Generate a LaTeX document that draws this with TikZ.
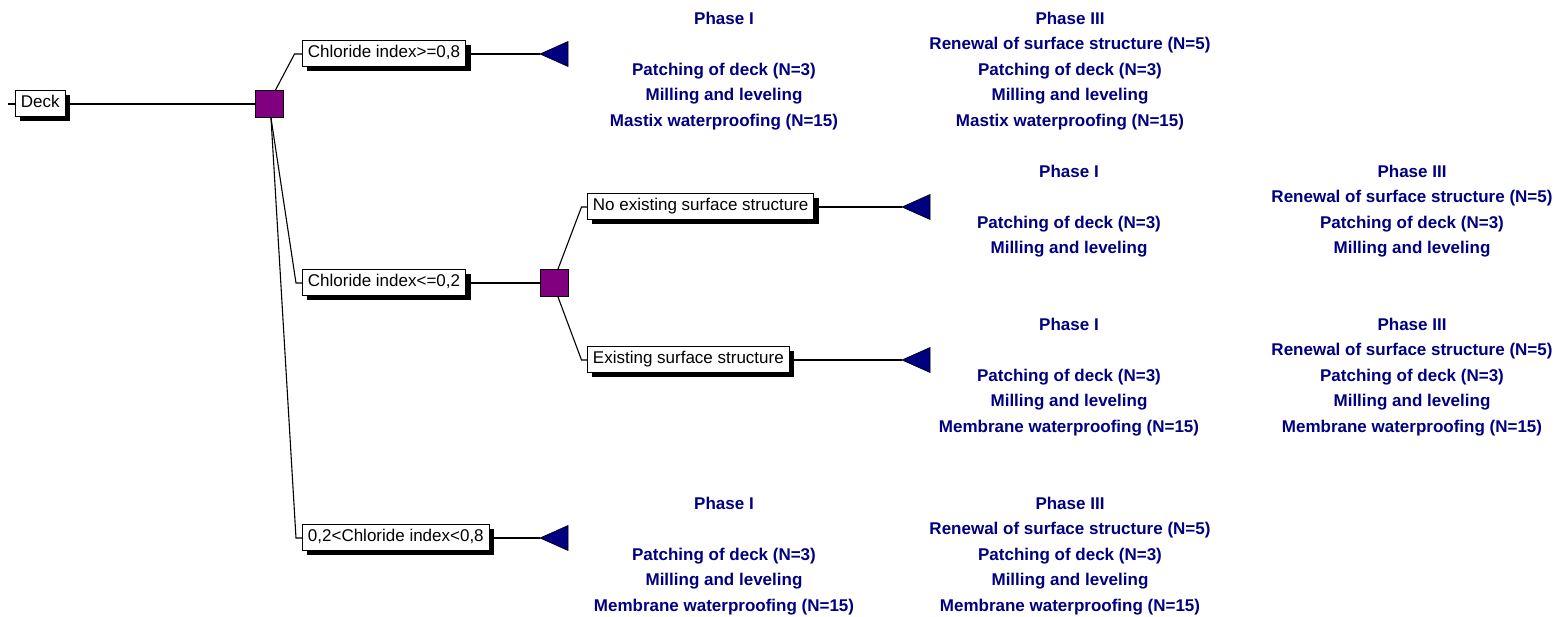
\documentclass[tikz,border=0pt]{standalone}
\usepackage{fontspec}
\setmainfont{Liberation Sans}
\usetikzlibrary{shadows}
\definecolor{navytext}{RGB}{0,0,128}
\definecolor{decpurple}{RGB}{128,0,128}
\begin{document}
\begin{tikzpicture}[x=1pt,y=-1pt,
  conn/.style={draw=black, line width=1.1pt},
  cond/.style={draw=black, fill=white, line width=0.9pt,
    font=\fontsize{17}{20}\selectfont, inner xsep=5.5pt, inner ysep=0pt,
    minimum height=26pt, text height=12.5pt, text depth=3.5pt, anchor=west,
    drop shadow={shadow xshift=5pt, shadow yshift=-5pt, fill=black, opacity=1}},
  dec/.style={draw=black, fill=decpurple, line width=0.9pt,
    minimum width=28pt, minimum height=27pt, inner sep=0pt},
  leaf/.style={draw=black, fill=navytext, line width=0.6pt},
  txt/.style={font=\bfseries\fontsize{17}{20}\selectfont, text=navytext,
    anchor=base, inner sep=0pt}
]
\useasboundingbox (0,0) rectangle (1567,617);

% ---------- tree nodes ----------
\node[cond] (deck) at (15,103) {Deck};
\node[dec]  (sq1) at (269.5,104) {};
\node[cond] (b1) at (302,53)  {Chloride index>=0,8};
\node[cond] (b2) at (302,282) {Chloride index<=0,2};
\node[cond] (b3) at (302,537) {0,2<Chloride index<0,8};
\node[dec]  (sq2) at (554,283) {};
\node[cond] (b4) at (587,206) {No existing surface structure};
\node[cond] (b5) at (587,359) {Existing surface structure};

% ---------- helper coordinates ----------
\coordinate (stub) at (8,104);
\coordinate (k1) at (294.5,54);
\coordinate (k2) at (296,283);
\coordinate (k3) at (296,538);
\coordinate (k4) at (581.5,207);
\coordinate (k5) at (581.5,360);
\coordinate (t1) at (540,54);
\coordinate (t2) at (902,207);
\coordinate (t3) at (902,360);
\coordinate (t4) at (540,538);

% ---------- connectors ----------
\draw[conn] (stub) -- (deck.west |- stub);
\draw[conn] (deck.east |- sq1) -- (sq1.west);
\draw[conn] ([xshift=6pt]sq1.north) -- (k1) -- (b1.west |- k1);
\draw[conn] ([xshift=1.5pt]sq1.south) -- (k2) -- (b2.west |- k2);
\draw[conn] ([xshift=1.5pt]sq1.south) -- (k3) -- (b3.west |- k3);
\draw[conn] (b2.east |- sq2) -- (sq2.west);
\draw[conn] ([xshift=4pt]sq2.north) -- (k4) -- (b4.west |- k4);
\draw[conn] ([xshift=4pt]sq2.south) -- (k5) -- (b5.west |- k5);
\draw[conn] (b1.east |- t1) -- (t1);
\draw[conn] (b4.east |- t2) -- (t2);
\draw[conn] (b5.east |- t3) -- (t3);
\draw[conn] (b3.east |- t4) -- (t4);

% ---------- terminal triangles ----------
\foreach \t in {t1,t2,t3,t4}
  \filldraw[leaf] (\t) -- ++(28,-12.5) -- ++(0,25) -- cycle;

% ---------- text blocks ----------
% group 1
\node[txt] (g1a0) at (724,24.4)  {Phase I};
\node[txt] (g1a2) at (724,75.4)  {Patching of deck (N=3)};
\node[txt] (g1a3) at (724,100.9) {Milling and leveling};
\node[txt] (g1a4) at (724,126.4) {Mastix waterproofing (N=15)};
\node[txt] (g1b0) at (1070,24.4)  {Phase III};
\node[txt] (g1b1) at (1070,49.9)  {Renewal of surface structure (N=5)};
\node[txt] (g1b2) at (1070,75.4)  {Patching of deck (N=3)};
\node[txt] (g1b3) at (1070,100.9) {Milling and leveling};
\node[txt] (g1b4) at (1070,126.4) {Mastix waterproofing (N=15)};
% group 2
\node[txt] (g2a0) at (1069,177.4) {Phase I};
\node[txt] (g2a2) at (1069,228.4) {Patching of deck (N=3)};
\node[txt] (g2a3) at (1069,253.9) {Milling and leveling};
\node[txt] (g2b0) at (1412,177.4) {Phase III};
\node[txt] (g2b1) at (1412,202.9) {Renewal of surface structure (N=5)};
\node[txt] (g2b2) at (1412,228.4) {Patching of deck (N=3)};
\node[txt] (g2b3) at (1412,253.9) {Milling and leveling};
% group 3
\node[txt] (g3a0) at (1069,330.4) {Phase I};
\node[txt] (g3a2) at (1069,381.4) {Patching of deck (N=3)};
\node[txt] (g3a3) at (1069,406.9) {Milling and leveling};
\node[txt] (g3a4) at (1069,432.4) {Membrane waterproofing (N=15)};
\node[txt] (g3b0) at (1412,330.4) {Phase III};
\node[txt] (g3b1) at (1412,355.9) {Renewal of surface structure (N=5)};
\node[txt] (g3b2) at (1412,381.4) {Patching of deck (N=3)};
\node[txt] (g3b3) at (1412,406.9) {Milling and leveling};
\node[txt] (g3b4) at (1412,432.4) {Membrane waterproofing (N=15)};
% group 4
\node[txt] (g4a0) at (724,509.4) {Phase I};
\node[txt] (g4a2) at (724,560.4) {Patching of deck (N=3)};
\node[txt] (g4a3) at (724,585.9) {Milling and leveling};
\node[txt] (g4a4) at (724,611.4) {Membrane waterproofing (N=15)};
\node[txt] (g4b0) at (1070,509.4) {Phase III};
\node[txt] (g4b1) at (1070,534.9) {Renewal of surface structure (N=5)};
\node[txt] (g4b2) at (1070,560.4) {Patching of deck (N=3)};
\node[txt] (g4b3) at (1070,585.9) {Milling and leveling};
\node[txt] (g4b4) at (1070,611.4) {Membrane waterproofing (N=15)};
\end{tikzpicture}
\end{document}
